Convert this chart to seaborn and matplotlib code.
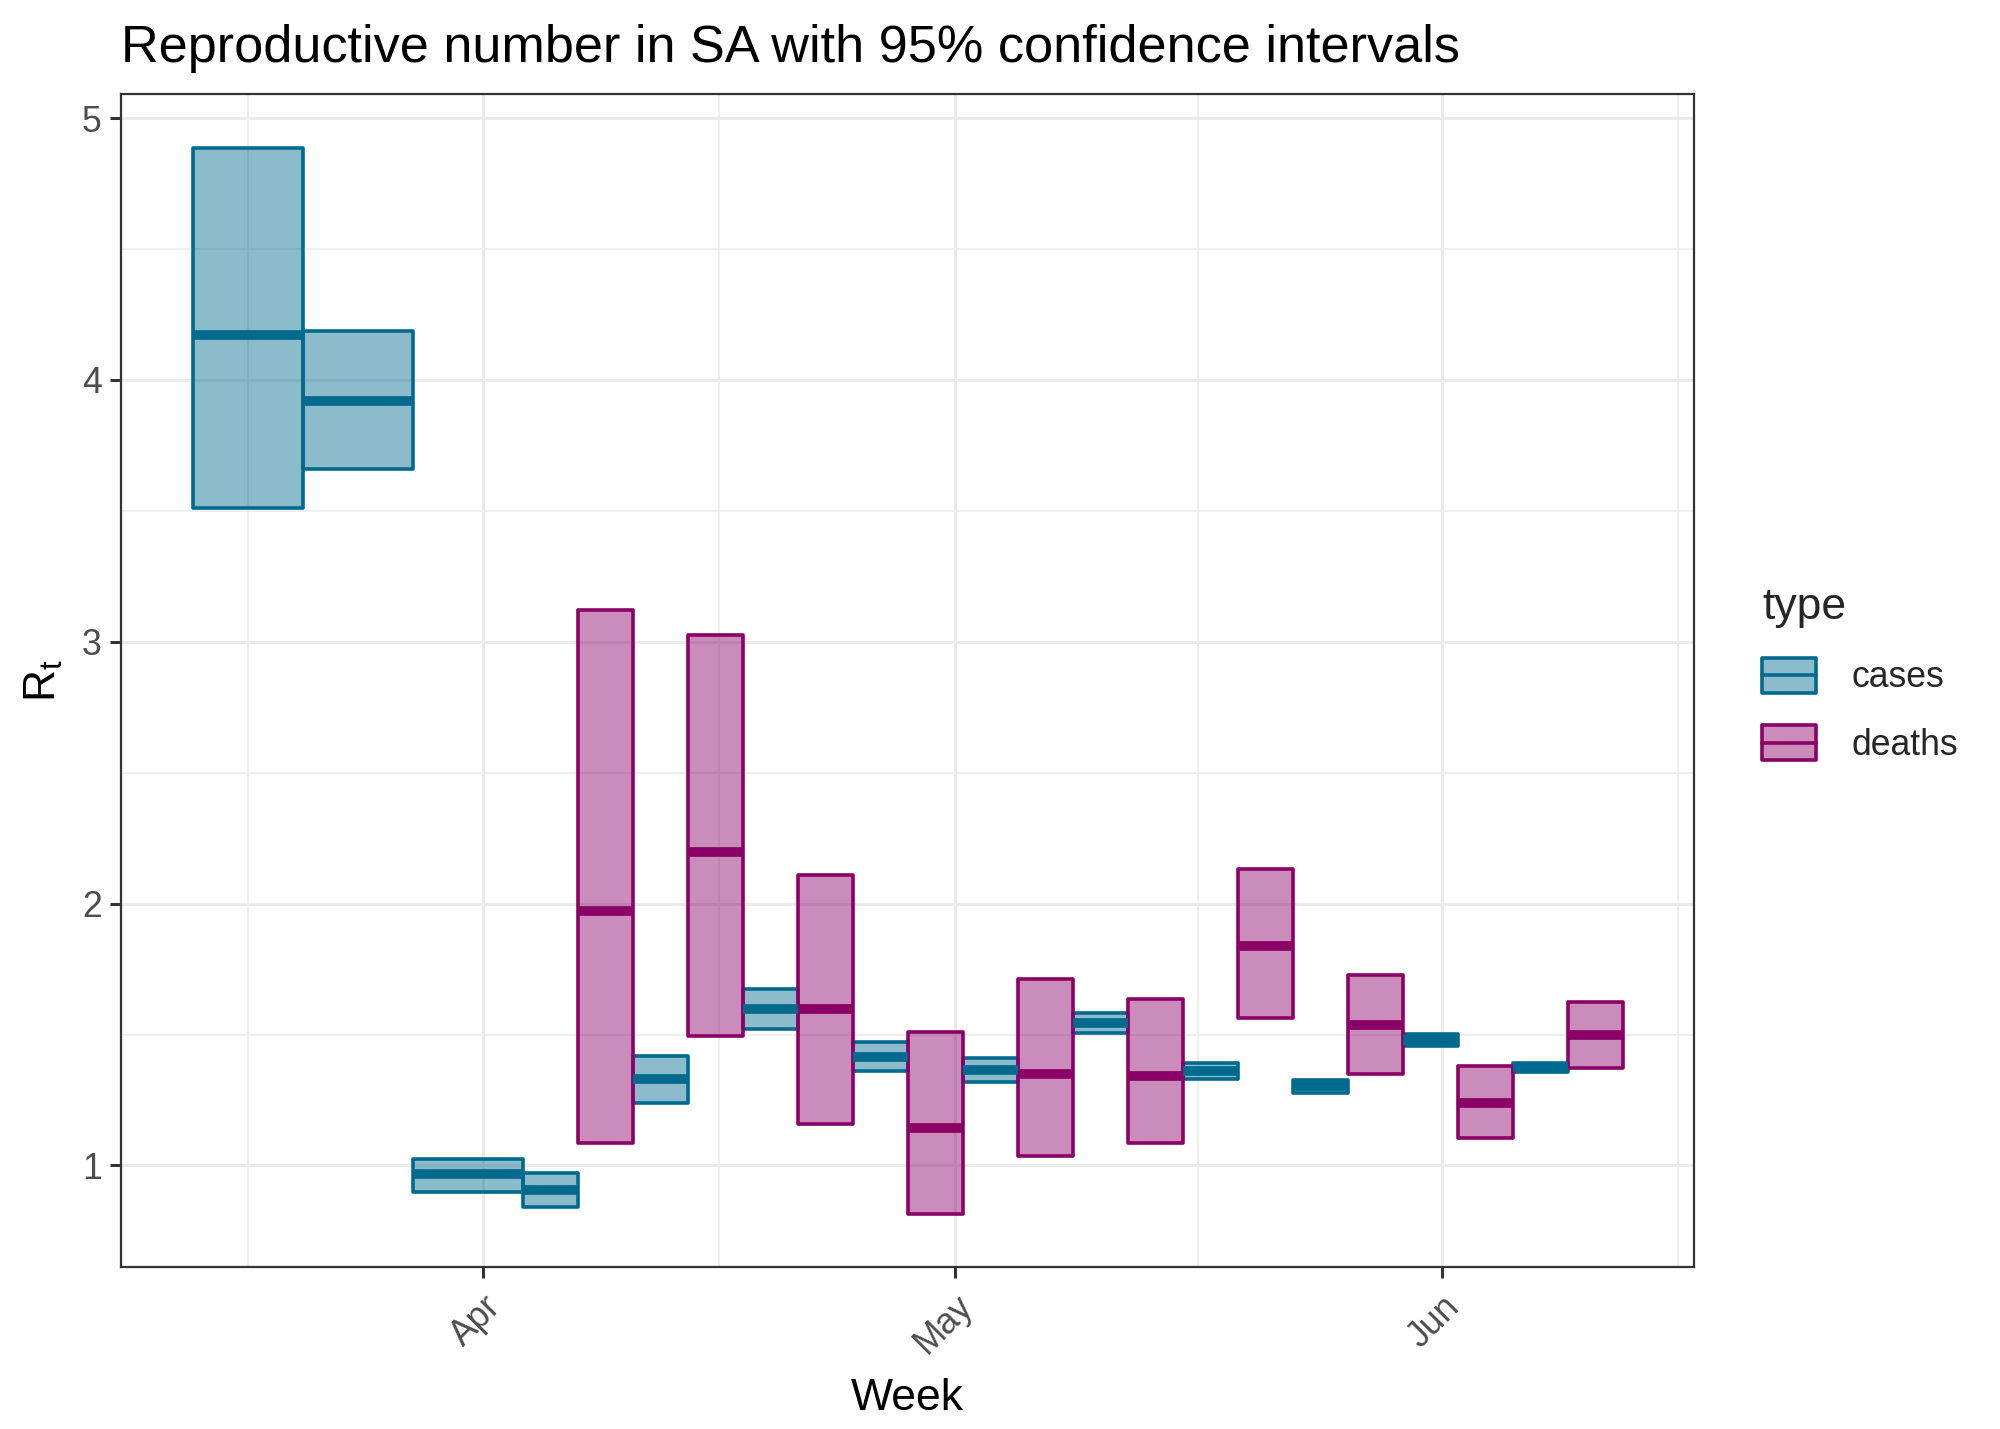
import numpy as np
import pandas as pd
import matplotlib
matplotlib.use("Agg")
import matplotlib.pyplot as plt
import matplotlib.dates as mdates
from matplotlib.patches import Rectangle, Patch
from matplotlib.lines import Line2D
from matplotlib.legend_handler import HandlerBase
from matplotlib.ticker import MultipleLocator, FixedLocator
import seaborn as sns

# ---------------- data ----------------
case_weeks = ["2020-03-17", "2020-03-24", "2020-03-31", "2020-04-07", "2020-04-14",
              "2020-04-21", "2020-04-28", "2020-05-05", "2020-05-12", "2020-05-19",
              "2020-05-26", "2020-06-02", "2020-06-09"]
case_mean = [4.170, 3.921, 0.966, 0.907, 1.329, 1.598, 1.416, 1.364, 1.544, 1.362, 1.302, 1.479, 1.375]
case_lower = [3.511, 3.658, 0.899, 0.840, 1.238, 1.520, 1.361, 1.318, 1.504, 1.331, 1.278, 1.456, 1.357]
case_upper = [4.887, 4.188, 1.023, 0.970, 1.417, 1.674, 1.473, 1.409, 1.581, 1.392, 1.328, 1.502, 1.393]

death_weeks = ["2020-04-07", "2020-04-14", "2020-04-21", "2020-04-28", "2020-05-05",
               "2020-05-12", "2020-05-19", "2020-05-26", "2020-06-02", "2020-06-09"]
death_mean = [1.972, 2.197, 1.596, 1.142, 1.351, 1.342, 1.840, 1.537, 1.239, 1.498]
death_lower = [1.084, 1.494, 1.157, 0.816, 1.035, 1.084, 1.563, 1.348, 1.106, 1.372]
death_upper = [3.123, 3.026, 2.108, 1.511, 1.712, 1.636, 2.132, 1.727, 1.381, 1.624]

types = ["cases", "deaths"]
colors = {"cases": "#006A8E", "deaths": "#8B0066"}
x_ticks = ["2020-04-01", "2020-05-01", "2020-06-01"]
x_tick_labels = ["Apr", "May", "Jun"]

df = pd.concat([
    pd.DataFrame({"week": pd.to_datetime(case_weeks), "mean": case_mean,
                  "lower": case_lower, "upper": case_upper, "type": "cases"}),
    pd.DataFrame({"week": pd.to_datetime(death_weeks), "mean": death_mean,
                  "lower": death_lower, "upper": death_upper, "type": "deaths"}),
], ignore_index=True)

# ---------------- style ----------------
sns.set_theme(style="white")
plt.rcParams["font.family"] = ["Liberation Sans", "DejaVu Sans"]
plt.rcParams["mathtext.fontset"] = "custom"
plt.rcParams["mathtext.rm"] = "Liberation Sans"
plt.rcParams["mathtext.it"] = "Liberation Sans:italic"

fig = plt.figure(figsize=(10, 7.145), dpi=200)
ax = fig.add_axes([0.0605, 0.1134, 0.847 - 0.0605, 0.934 - 0.1134])

# ---------------- crossbars (dodged) ----------------
full_w = 7.0
df["xnum"] = mdates.date2num(df["week"])
df["n"] = df.groupby("week")["type"].transform("count")
alpha = 0.45
lw_box = 1.3
lw_med = 3.5
for t in types:
    sub = df[df["type"] == t]
    idx = types.index(t)
    w = np.where(sub["n"] > 1, full_w / 2, full_w)
    offs = np.where(sub["n"] > 1, (idx - 0.5) * full_w / 2, 0.0)
    xc = sub["xnum"].values + offs
    bars = ax.bar(xc, sub["upper"] - sub["lower"], bottom=sub["lower"], width=w,
                  facecolor=matplotlib.colors.to_rgba(colors[t], alpha),
                  edgecolor=colors[t], linewidth=lw_box, zorder=3)
    for b in bars:
        b.set_joinstyle("round")
    ax.hlines(sub["mean"], xc - w / 2, xc + w / 2, colors=colors[t],
              linewidth=lw_med, zorder=4, capstyle="butt")

# ---------------- scales (ggplot-like 5% expansion) ----------------
xmin = df["xnum"].min() - full_w / 2
xmax = df["xnum"].max() + full_w / 2
dx = (xmax - xmin) * 0.05
ax.set_xlim(xmin - dx, xmax + dx)
ymin, ymax = df["lower"].min(), df["upper"].max()
dy = (ymax - ymin) * 0.05
ax.set_ylim(ymin - dy, ymax + dy)

ax.xaxis.set_major_locator(FixedLocator(mdates.date2num(pd.to_datetime(x_ticks))))
ax.set_xticklabels(x_tick_labels)
minor_x = mdates.date2num(pd.to_datetime(["2020-03-17", "2020-04-16", "2020-05-16", "2020-06-16"])) \
    + np.array([0.0, 0.0, 0.5, 0.0])
ax.xaxis.set_minor_locator(FixedLocator(minor_x))
ax.yaxis.set_major_locator(MultipleLocator(1))
ax.yaxis.set_minor_locator(MultipleLocator(0.5))

ax.grid(True, which="major", color="#EBEBEB", linewidth=1.1, zorder=0)
ax.grid(True, which="minor", color="#EBEBEB", linewidth=0.55, zorder=0)
ax.set_axisbelow(True)
for s in ax.spines.values():
    s.set_color("#333333")
    s.set_linewidth(0.8)

ax.tick_params(axis="both", which="major", length=4, width=1.1, color="#333333",
               labelcolor="#4D4D4D", labelsize=12.8, direction="out",
               bottom=True, left=True)
ax.tick_params(axis="y", which="major", pad=3)
ax.tick_params(axis="x", which="major", pad=4)
ax.tick_params(which="minor", length=0)
for lab in ax.get_xticklabels():
    lab.set_rotation(45)
    lab.set_ha("right")
    lab.set_va("top")
    lab.set_rotation_mode("anchor")

ax.set_xlabel("Week", fontsize=16, color="black", labelpad=6)
ax.set_ylabel(r"$\mathrm{R_t}$", fontsize=16, color="black", labelpad=6)
fig.text(0.0605, 0.966, "Reproductive number in SA with 95% confidence intervals",
         fontsize=18.8, color="black", ha="left", va="center")

# ---------------- legend ----------------
class CrossbarHandler(HandlerBase):
    def create_artists(self, legend, orig_handle, xdescent, ydescent, width, height,
                       fontsize, trans):
        ec = orig_handle.get_edgecolor()
        fc = orig_handle.get_facecolor()
        r = Rectangle((-xdescent, -ydescent), width, height, facecolor=fc,
                      edgecolor=ec, linewidth=lw_box, transform=trans)
        r.set_joinstyle("round")
        l = Line2D([-xdescent, -xdescent + width], [-ydescent + height / 2] * 2,
                   color=ec, linewidth=lw_box, transform=trans)
        return [r, l]

handles = [Patch(facecolor=matplotlib.colors.to_rgba(colors[t], alpha), edgecolor=colors[t])
           for t in types]
leg = fig.legend(handles, types, handler_map={Patch: CrossbarHandler()},
                 title="type", loc="upper left", bbox_to_anchor=(0.874, 0.599),
                 frameon=False, fontsize=12.8, title_fontsize=16,
                 handlelength=1.52, handleheight=1.12, labelspacing=0.84,
                 handletextpad=1.0, alignment="left", borderaxespad=0)

fig.savefig("out.png", dpi=200, facecolor="white")
